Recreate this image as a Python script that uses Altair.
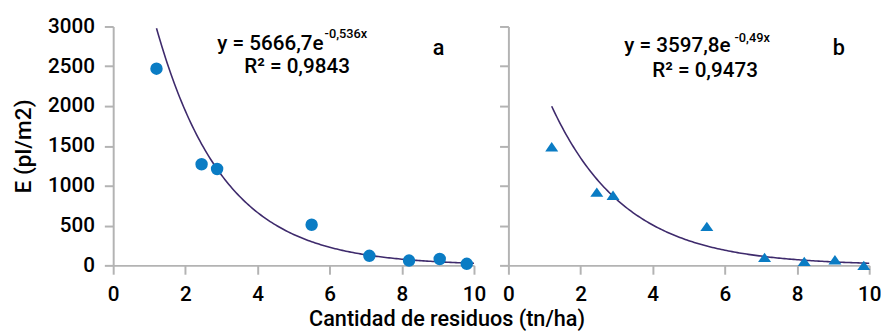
import altair as alt
import pandas as pd

# Data
x_vals = [1.2, 2.45, 2.88, 5.5, 7.1, 8.2, 9.05, 9.8]
y_a = [2470, 1270, 1210, 510, 120, 60, 80, 20]
x_vals_b = [1.2, 2.45, 2.9, 5.5, 7.1, 8.2, 9.05, 9.85]
y_b = [1490, 920, 880, 490, 100, 50, 70, 0]

# Fitted curves (from the equations in the chart)
coef_a, rate_a = 5666.7, -0.536
coef_b, rate_b = 3597.8, -0.49

eq_a = ["y = 5666,7e", "-0,536x", "R² = 0,9843", "a"]
eq_b = ["y = 3597,8e", "-0,49x", "R² = 0,9473", "b"]

x_ticks = [0, 2, 4, 6, 8, 10]
y_ticks = [0, 500, 1000, 1500, 2000, 2500, 3000]

FONT = "Roboto"
W, H = 367, 243
DOT = "#0a7cc4"
LINE = "#3e2a6c"
TRI = "M-1,0.72 L0,-0.72 L1,0.72 Z"

xs = alt.Scale(domain=[0, 10], nice=False)
ys = alt.Scale(domain=[0, 3000], nice=False)


def panel(xv, yv, coef, rate, texts, shape, size, show_y_labels, pos):
    pts = pd.DataFrame({"x": xv, "y": yv})
    x_ax = alt.Axis(values=x_ticks, title=None, format="d")
    if show_y_labels:
        y_ax = alt.Axis(values=y_ticks, title="E (pl/m2)", format="d")
    else:
        y_ax = alt.Axis(values=y_ticks, title=None, labels=False)

    curve = alt.Chart(alt.sequence(1.2, 10.001, 0.05, as_="x")).transform_calculate(
        y=f"{coef} * exp({rate} * datum.x)"
    ).mark_line(color=LINE, strokeWidth=1.6).encode(
        x=alt.X("x:Q", scale=xs, axis=x_ax),
        y=alt.Y("y:Q", scale=ys, axis=y_ax),
    )
    points = alt.Chart(pts).mark_point(
        shape=shape, filled=True, color=DOT, opacity=1, size=size
    ).encode(x=alt.X("x:Q", scale=xs), y=alt.Y("y:Q", scale=ys))

    def txt(s, xy, size, align, weight=500):
        return alt.Chart(pd.DataFrame({"t": [s]})).mark_text(
            font=FONT, fontSize=size, fontWeight=weight, align=align, baseline="alphabetic", color="black"
        ).encode(text="t:N", x=alt.value(xy[0]), y=alt.value(xy[1]))

    return alt.layer(
        curve, points,
        txt(texts[0], pos[0], 21, "right"),
        txt(texts[1], pos[1], 13, "left"),
        txt(texts[2], pos[2], 21, "center"),
        txt(texts[3], pos[3], 22, "center"),
    ).properties(width=W, height=H)


left = panel(x_vals, y_a, coef_a, rate_a, eq_a, "circle", 160, True,
             [(214, 24), (215, 12), (187, 47), (331, 29)])
right = panel(x_vals_b, y_b, coef_b, rate_b, eq_b, TRI, 175, False,
              [(226, 26), (230, 16), (200, 51), (336, 29)])

chart = alt.hconcat(left, right, spacing=13).properties(
    padding={"left": 5, "top": 5, "right": 0, "bottom": 0},
    title=alt.TitleParams("Cantidad de residuos (tn/ha)", orient="bottom", anchor="middle",
                          font=FONT, fontSize=22, fontWeight=500, color="black", offset=5)
).configure_view(stroke=None).configure_axis(
    grid=False,
    domainColor="#b3b3b3", domainWidth=2,
    tickColor="#b3b3b3", tickWidth=2, tickSize=9,
    labelFont=FONT, labelFontSize=21, labelFontWeight=500, labelColor="black", labelPadding=10,
    titleFont=FONT, titleFontSize=23, titleFontWeight=500, titleColor="black", titlePadding=12,
).configure_axisX(labelFlush=False, labelPadding=10)

chart.save("out.html", embed_options={"renderer": "svg", "actions": False})
